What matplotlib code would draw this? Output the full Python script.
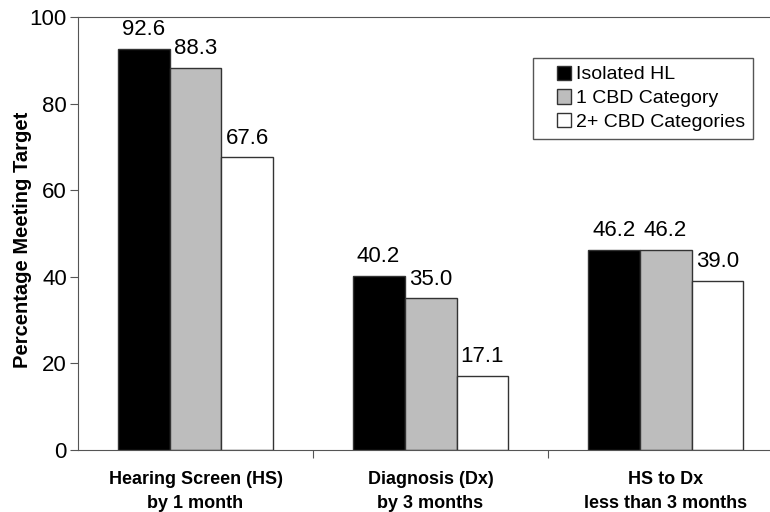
import matplotlib
matplotlib.use("Agg")
from matplotlib import pyplot as plt
from matplotlib.patches import Rectangle
import numpy as np

plt.rcParams['font.family'] = ['Liberation Sans', 'DejaVu Sans']

categories = ['Hearing Screen (HS)\nby 1 month', 'Diagnosis (Dx)\nby 3 months', 'HS to Dx\nless than 3 months']
series_names = ['Isolated HL', '1 CBD Category', '2+ CBD Categories']
isolated = [92.6, 40.2, 46.2]
one_cbd = [88.3, 35.0, 46.2]
two_cbd = [67.6, 17.1, 39.0]
colors = ['#000000', '#bdbdbd', '#ffffff']

fig = plt.figure(figsize=(7.7, 5.12), dpi=100)
ax = fig.add_axes([0.1013, 0.121, 0.9157, 0.846])

x = np.arange(len(categories))
w = 0.221
for i, (vals, name, c) in enumerate(zip([isolated, one_cbd, two_cbd], series_names, colors)):
    bars = ax.bar(x + (i - 1) * w, vals, w, color=c, edgecolor='#333333', linewidth=1, label=name)
    for b, v in zip(bars, vals):
        ax.text(b.get_x() + b.get_width() / 2, v + 2, f"{v:.1f}", ha='center', va='bottom', fontsize=16)

ax.set_xlim(-0.5, 2.5)
ax.set_ylim(0, 100)
ax.set_yticks([0, 20, 40, 60, 80, 100])
ax.tick_params(axis='y', labelsize=16, length=6, pad=2, color='#555555')
ax.set_xticks([0.5, 1.5])
ax.set_xticklabels(['', ''])
ax.tick_params(axis='x', length=6, color='#555555')
for xi, lab in zip(x, categories):
    ax.text(xi, -4.8, lab, ha='center', va='top', fontsize=13, fontweight='bold', linespacing=1.55)
fig.text(23 / 770, 1 - 240 / 512, 'Percentage Meeting Target', rotation=90, ha='center', va='center',
         fontsize=14.5, fontweight='bold')
for s in ['left', 'top', 'bottom', 'right']:
    ax.spines[s].set_color('#555555')

leg = ax.legend(loc='upper right', bbox_to_anchor=(0.971, 0.928), fontsize=14, frameon=False,
                handlelength=0.75, handleheight=0.75, handletextpad=0.25,
                borderpad=0.4, labelspacing=0.3)
fig.canvas.draw()
bb = leg.get_window_extent()
fig.add_artist(Rectangle((bb.x0 - 16, bb.y0), bb.width + 16, bb.height, transform=None,
                         fill=False, edgecolor='#555555', linewidth=1))

plt.savefig("out.png", dpi=100)
